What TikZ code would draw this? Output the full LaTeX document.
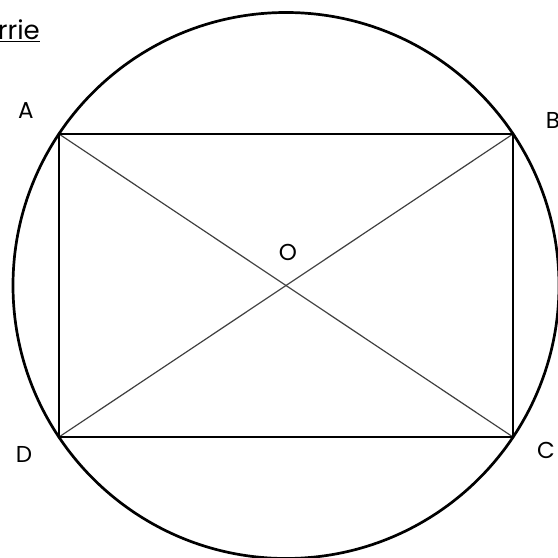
\documentclass[tikz,border=0pt]{standalone}
\usepackage{fontspec}
\setmainfont{Poppins}
\begin{document}
\begin{tikzpicture}[x=1pt,y=1pt,
  lbl/.style={font=\fontsize{23}{26}\selectfont, inner sep=0pt},
  thickline/.style={line width=2.7pt, black},
  diag/.style={line width=1.2pt, black!75}]
\useasboundingbox (0,0) rectangle (558,558);
\clip (0,0) rectangle (558,558);
\coordinate (A) at (59,424);
\coordinate (B) at (513,424);
\coordinate (C) at (513,121);
\coordinate (D) at (59,121);
\coordinate (O) at (286,272.5);
\draw[thickline] (O) circle (273);
\draw[diag] (A) -- (C);
\draw[diag] (B) -- (D);
\draw[thickline, line join=miter] (A) -- (B) -- (C) -- (D) -- cycle;
\node[lbl] (la) at (26,447) {A};
\node[lbl] (lb) at (553,438) {B};
\node[lbl] (lc) at (546,108) {C};
\node[lbl] (ld) at (24,104) {D};
\node[lbl] (lo) at (288,306) {O};
\node[font=\fontsize{26}{30}\selectfont, inner sep=0pt, anchor=base east] (t) at (40,518) {\underline{rrie}};
\end{tikzpicture}
\end{document}
